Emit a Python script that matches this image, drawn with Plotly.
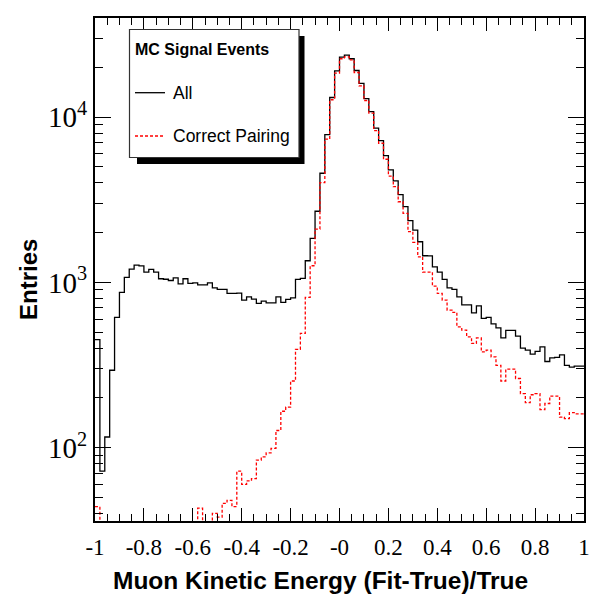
import plotly.graph_objects as go

# ---------------- data ----------------
BIN_LOW, BIN_HIGH, N_BINS = -1.0, 1.0, 100

all_counts = [
    451, 72, 116, 294, 614, 869, 1071, 1204, 1273, 1260,
    1154, 1200, 1154, 1052, 1045, 1027, 1066, 980, 1052, 985,
    994, 967, 967, 994, 927, 907, 907, 857, 857, 862,
    781, 818, 792, 746, 770, 752, 752, 818, 757, 790,
    806, 1043, 1057, 1352, 1848, 2694, 4577, 7842, 13150, 19080,
    23100, 23760, 22560, 19160, 15990, 12960, 10810, 8570, 7210, 5850,
    4793, 4111, 3396, 2871, 2362, 2074, 1762, 1449, 1445, 1243,
    1154, 1043, 927, 907, 818, 730, 731, 654, 721, 605,
    614, 561, 531, 461, 512, 512, 473, 400, 389, 368,
    382, 407, 332, 349, 352, 364, 315, 307, 311, 311,
]

# bins drawn on the bottom axis (below the visible minimum) are given 30
correct_counts = [
    44, 30, 30, 30, 30, 30, 30, 30, 30, 30,
    30, 30, 30, 30, 30, 30, 30, 30, 30, 30,
    30, 43, 30, 30, 40, 38, 46, 48, 44, 72,
    60, 63, 65, 84, 88, 93, 99, 127, 166, 176,
    253, 393, 491, 811, 1261, 2102, 4014, 7356, 12740, 18480,
    22560, 23140, 22200, 18630, 15480, 12610, 10570, 8295, 6950, 5560,
    4402, 3795, 3077, 2617, 2026, 1747, 1428, 1154, 1154, 950,
    857, 781, 679, 658, 538, 514, 468, 427, 461, 380,
    389, 354, 315, 253, 299, 299, 262, 212, 187, 209,
    212, 170, 185, 205, 205, 153, 150, 163, 160, 160,
]

x_tick_vals = [-1, -0.8, -0.6, -0.4, -0.2, 0, 0.2, 0.4, 0.6, 0.8, 1]
x_tick_text = ["-1", "-0.8", "-0.6", "-0.4", "-0.2", "-0", "0.2", "0.4", "0.6", "0.8", "1"]
y_tick_vals = [100, 1000, 10000]
y_tick_text = ["10<sup>2</sup>", "10<sup>3</sup>", "10<sup>4</sup>"]
y_minor_vals = [m * d for d in (10, 100, 1000, 10000) for m in range(2, 10)]

legend_title = "MC Signal Events"
series_names = ["All", "Correct Pairing"]
x_title = "Muon Kinetic Energy (Fit-True)/True"
y_title = "Entries"

# ---------------- histogram step geometry ----------------
width = (BIN_HIGH - BIN_LOW) / N_BINS
edges = [BIN_LOW + i * width for i in range(N_BINS + 1)]


def steps(vals):
    return edges, list(vals) + [vals[-1]]


W, H = 595, 594
ML, MR, MT, MB = 95, 11, 18, 73
PW, PH = W - ML - MR, H - MT - MB


def px(x):
    return (x - ML) / PW


def py(y):
    return (H - MB - y) / PH


fig = go.Figure()
xs, ys = steps(all_counts)
fig.add_trace(go.Scatter(x=xs, y=ys, mode="lines", line_shape="hv",
                         line=dict(color="black", width=1.3),
                         name=series_names[0], showlegend=False))
xs, ys = steps(correct_counts)
fig.add_trace(go.Scatter(x=xs, y=ys, mode="lines", line_shape="hv",
                         line=dict(color="#ff0000", width=1.3, dash="3px,2px"),
                         name=series_names[1], showlegend=False))

serif = "Liberation Serif, Times New Roman, serif"
sans = "Liberation Sans, Arial, Helvetica, sans-serif"

fig.update_xaxes(range=[BIN_LOW, BIN_HIGH], tickvals=x_tick_vals, ticktext=x_tick_text,
                 ticks="inside", ticklen=13, tickwidth=1, tickcolor="black",
                 minor=dict(dtick=0.05, ticks="inside", ticklen=7, tickwidth=1, tickcolor="black"),
                 showline=True, linewidth=2, linecolor="black", mirror="ticks",
                 showgrid=False, zeroline=False, automargin=False,
                 tickfont=dict(family=serif, size=23, color="black"),
                 ticklabelstandoff=4)
fig.update_yaxes(type="log", range=[1.556, 4.600], tickvals=y_tick_vals, ticktext=y_tick_text,
                 ticks="inside", ticklen=16, tickwidth=1, tickcolor="black",
                 minor=dict(tickvals=y_minor_vals, ticks="inside", ticklen=8, tickwidth=1,
                            tickcolor="black"),
                 showline=True, linewidth=2, linecolor="black", mirror="ticks",
                 showgrid=False, zeroline=False, automargin=False,
                 tickfont=dict(family=serif, size=29, color="black"))

shapes = [
    # legend shadow and box
    dict(type="rect", xref="paper", yref="paper", x0=px(137), x1=px(304.5), y0=py(164), y1=py(36),
         fillcolor="black", line=dict(width=0), layer="above"),
    dict(type="rect", xref="paper", yref="paper", x0=px(129.5), x1=px(299), y0=py(157.5), y1=py(29.5),
         fillcolor="white", line=dict(color="#333333", width=1.2), layer="above"),
    # legend samples
    dict(type="line", xref="paper", yref="paper", x0=px(135), x1=px(165), y0=py(92.7), y1=py(92.7),
         line=dict(color="black", width=1.3), layer="above"),
    dict(type="line", xref="paper", yref="paper", x0=px(135), x1=px(165), y0=py(136), y1=py(136),
         line=dict(color="#ff0000", width=1.3, dash="3px,2px"), layer="above"),
]

annotations = [
    dict(text="<b>" + legend_title + "</b>", xref="paper", yref="paper", x=px(133), y=py(49.5),
         xanchor="left", yanchor="middle", showarrow=False,
         font=dict(family=sans, size=16, color="black")),
    dict(text=series_names[0], xref="paper", yref="paper", x=px(170.5), y=py(93),
         xanchor="left", yanchor="middle", showarrow=False,
         font=dict(family=sans, size=17.5, color="black")),
    dict(text=series_names[1], xref="paper", yref="paper", x=px(170.5), y=py(136),
         xanchor="left", yanchor="middle", showarrow=False,
         font=dict(family=sans, size=17.5, color="black")),
    dict(text="<b>" + x_title + "</b>", xref="paper", yref="paper", x=px(320), y=py(580),
         xanchor="center", yanchor="middle", showarrow=False,
         font=dict(family=sans, size=24.5, color="black")),
    dict(text="<b>" + y_title + "</b>", xref="paper", yref="paper", x=px(28), y=py(280),
         xanchor="center", yanchor="middle", showarrow=False, textangle=-90,
         font=dict(family=sans, size=24, color="black")),
]

fig.update_layout(width=W, height=H, margin=dict(l=ML, r=MR, t=MT, b=MB, pad=0),
                  paper_bgcolor="white", plot_bgcolor="white",
                  shapes=shapes, annotations=annotations, showlegend=False)

fig.write_html("out.html", config={"displayModeBar": False},
               post_script="document.body.style.margin='0px';document.body.style.padding='0px';")
